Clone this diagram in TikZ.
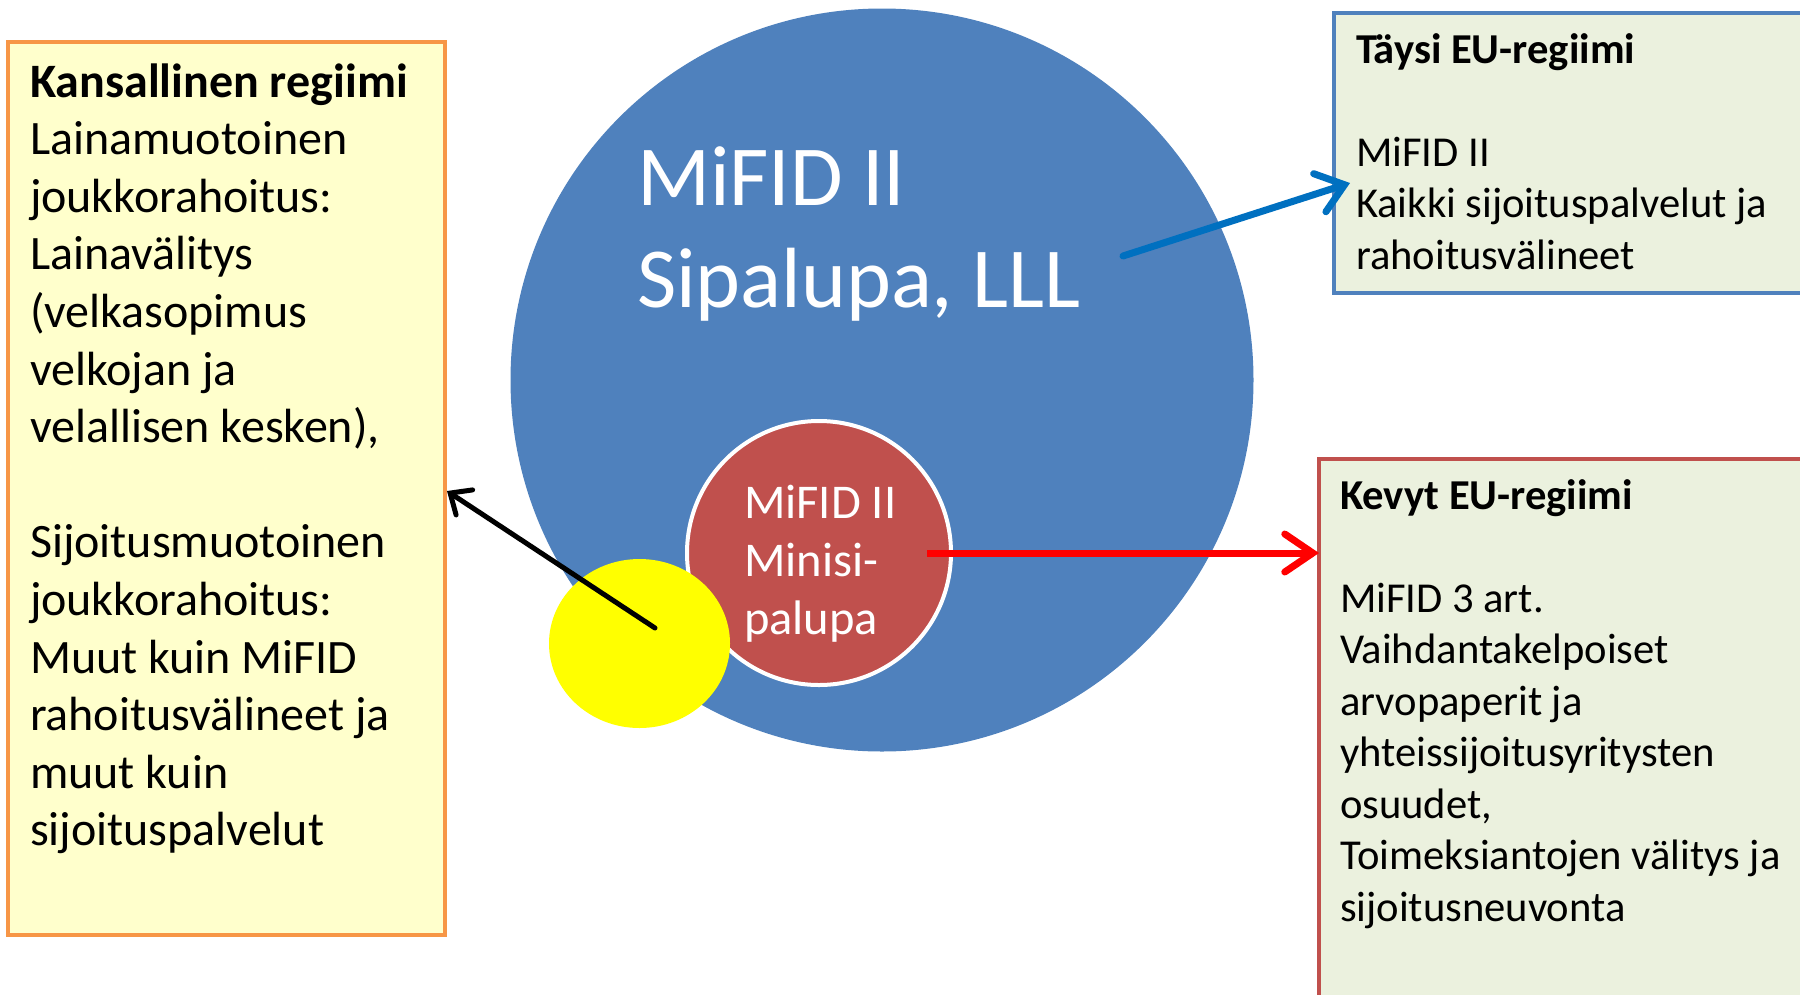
\documentclass[tikz,border=0pt]{standalone}
\usepackage{fontspec}
\setmainfont{Carlito}
\usetikzlibrary{arrows.meta,shapes.geometric}
\definecolor{bigblue}{HTML}{4F81BD}
\definecolor{minired}{HTML}{C0504D}
\definecolor{natfill}{HTML}{FFFFCC}
\definecolor{natline}{HTML}{F79646}
\definecolor{eufill}{HTML}{EBF1DE}
\definecolor{arrowblue}{HTML}{0070C0}
\definecolor{pureyellow}{HTML}{FFFF00}
\tikzset{
  box/.style={anchor=north west, inner sep=0pt, outer sep=0pt},
  txt/.style={anchor=base west, inner sep=0pt, outer sep=0pt},
  conn/.style={line cap=round, line join=round}
}
\begin{document}
\begin{tikzpicture}[x=1pt,y=-1pt]
\useasboundingbox (0,0) rectangle (1800,994);
\clip (0,0) rectangle (1800,994);
% boxes
\node[box, draw=natline, line width=4pt, fill=natfill, minimum width=437pt, minimum height=893pt] (nat) at (8,42) {};
\node[box, draw=bigblue, line width=3.5pt, fill=eufill, minimum width=520pt, minimum height=280pt] (full) at (1334,13) {};
\node[box, draw=minired, line width=4pt, fill=eufill, minimum width=540pt, minimum height=600pt] (light) at (1319,459) {};
% circles
\node[circle, fill=bigblue, minimum size=743pt, inner sep=0pt] (big) at (882,380) {};
\node[circle, fill=minired, draw=white, line width=4pt, minimum size=264pt, inner sep=0pt] (mini) at (819,553) {};
\node[ellipse, fill=pureyellow, minimum width=181pt, minimum height=169pt, inner sep=0pt] (yel) at (639.5,643.5) {};
% texts
\node[txt] (nattxt) at (30,97) {\fontsize{48}{57.6}\selectfont\begin{tabular}[t]{@{}l@{}}
\textbf{Kansallinen regiimi}\\
Lainamuotoinen\\
joukkorahoitus:\\
Lainavälitys\\
(velkasopimus\\
velkojan ja\\
velallisen kesken),\\
\\
Sijoitusmuotoinen\\
joukkorahoitus:\\
Muut kuin MiFID\\
rahoitusvälineet ja\\
muut kuin\\
sijoituspalvelut
\end{tabular}};
\node[txt] (fulltxt) at (1356,63) {\fontsize{42.6}{51.5}\selectfont\begin{tabular}[t]{@{}l@{}}
\textbf{Täysi EU-regiimi}\\
\\
MiFID II\\
Kaikki sijoituspalvelut ja\\
rahoitusvälineet
\end{tabular}};
\node[txt] (lighttxt) at (1340,509) {\fontsize{42.6}{51.5}\selectfont\begin{tabular}[t]{@{}l@{}}
\textbf{Kevyt EU-regiimi}\\
\\
MiFID 3 art.\\
Vaihdantakelpoiset\\
arvopaperit ja\\
yhteissijoitusyritysten\\
osuudet,\\
Toimeksiantojen välitys ja\\
sijoitusneuvonta
\end{tabular}};
\node[txt, text=white] (bigtxt) at (637,205) {\fontsize{85.5}{102}\selectfont\begin{tabular}[t]{@{}l@{}}
MiFID II\\
Sipalupa, LLL
\end{tabular}};
\node[txt, text=white] (minitxt) at (744,518) {\fontsize{48.5}{58}\selectfont\begin{tabular}[t]{@{}l@{}}
MiFID II\\
Minisi-\\
palupa
\end{tabular}};
% connectors
\coordinate (bstart) at (1123,256);
\coordinate (bend) at (1350,183);
\draw[conn, draw=arrowblue, line width=7pt, -{Straight Barb[length=26pt,width=40pt,line cap=round]}] (bstart) -- (bend);
\coordinate (kstart) at (655,628);
\coordinate (kend) at (447,491);
\draw[conn, draw=black, line width=5pt, -{Straight Barb[length=17pt,width=30pt,line cap=round]}] (kstart) -- (kend);
\draw[conn, draw=red, line width=7pt, line cap=butt, -{Straight Barb[length=28pt,width=38pt,line cap=round]}] ([xshift=108pt]mini.center) -- (mini.center -| light.west);
\end{tikzpicture}
\end{document}
